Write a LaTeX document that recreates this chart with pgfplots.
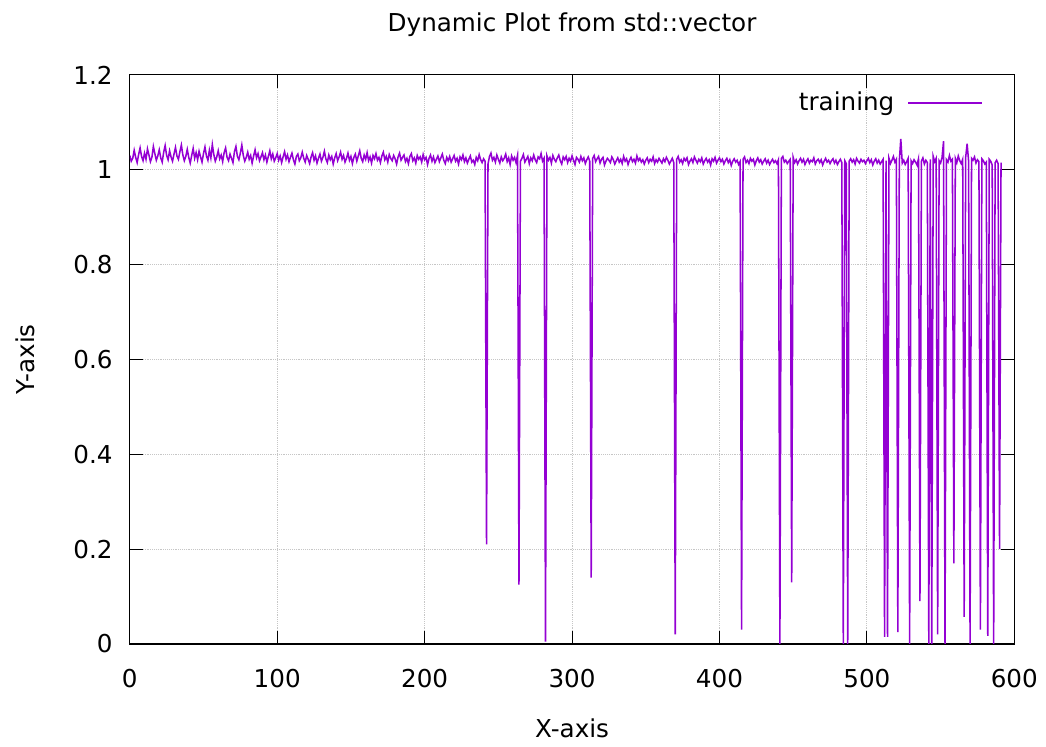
\documentclass[border=0pt]{standalone}
\usepackage{fontspec}
\setmainfont{DejaVu Sans}
\usepackage{pgfplots}
\usepackage{pgfplotstable}
\pgfplotsset{compat=1.18}
\definecolor{gpviolet}{HTML}{9400D3}

\pgfplotstableread[row sep=\\]{
y\\
1.030\\1.018\\1.024\\1.041\\1.026\\1.015\\1.032\\1.046\\1.028\\1.019\\
1.035\\1.022\\1.044\\1.031\\1.017\\1.026\\1.049\\1.034\\1.020\\1.029\\
1.042\\1.025\\1.016\\1.037\\1.051\\1.030\\1.021\\1.040\\1.027\\1.018\\
1.033\\1.047\\1.029\\1.022\\1.038\\1.052\\1.031\\1.019\\1.028\\1.043\\
1.026\\1.014\\1.030\\1.045\\1.024\\1.036\\1.021\\1.039\\1.027\\1.016\\
1.034\\1.048\\1.029\\1.020\\1.041\\1.025\\1.053\\1.032\\1.018\\1.027\\
1.040\\1.023\\1.031\\1.017\\1.036\\1.046\\1.026\\1.019\\1.033\\1.024\\
1.015\\1.038\\1.049\\1.028\\1.021\\1.035\\1.052\\1.030\\1.018\\1.026\\
1.037\\1.022\\1.030\\1.014\\1.029\\1.042\\1.025\\1.034\\1.019\\1.027\\
1.036\\1.021\\1.031\\1.016\\1.028\\1.040\\1.023\\1.033\\1.018\\1.025\\
1.034\\1.020\\1.029\\1.015\\1.027\\1.038\\1.022\\1.031\\1.017\\1.026\\
1.035\\1.021\\1.012\\1.028\\1.033\\1.019\\1.025\\1.037\\1.024\\1.016\\
1.030\\1.022\\1.013\\1.027\\1.036\\1.020\\1.029\\1.014\\1.024\\1.033\\
1.018\\1.026\\1.039\\1.023\\1.015\\1.031\\1.021\\1.028\\1.012\\1.025\\
1.034\\1.019\\1.027\\1.037\\1.022\\1.030\\1.016\\1.024\\1.035\\1.020\\
1.028\\1.013\\1.026\\1.033\\1.018\\1.029\\1.040\\1.024\\1.017\\1.031\\
1.022\\1.036\\1.019\\1.027\\1.014\\1.030\\1.023\\1.034\\1.020\\1.026\\
1.015\\1.029\\1.037\\1.021\\1.028\\1.016\\1.032\\1.024\\1.019\\1.030\\
1.023\\1.012\\1.027\\1.035\\1.020\\1.026\\1.031\\1.017\\1.024\\1.013\\
1.028\\1.034\\1.019\\1.025\\1.014\\1.030\\1.022\\1.027\\1.016\\1.032\\
1.021\\1.026\\1.011\\1.024\\1.031\\1.018\\1.027\\1.015\\1.022\\1.029\\
1.017\\1.025\\1.033\\1.020\\1.013\\1.026\\1.019\\1.028\\1.016\\1.023\\
1.030\\1.018\\1.024\\1.012\\1.027\\1.021\\1.031\\1.017\\1.025\\1.014\\
1.022\\1.029\\1.016\\1.020\\1.011\\1.026\\1.019\\1.032\\1.021\\1.015\\
1.023\\1.018\\0.210\\1.012\\1.028\\1.035\\1.020\\1.026\\1.016\\1.031\\
1.022\\1.014\\1.027\\1.019\\1.024\\1.033\\1.017\\1.025\\1.011\\1.029\\
1.020\\1.026\\1.015\\1.030\\0.125\\1.018\\1.024\\1.032\\1.016\\1.022\\
1.028\\1.013\\1.025\\1.019\\1.031\\1.021\\1.015\\1.027\\1.023\\1.034\\
1.018\\1.024\\0.005\\1.029\\1.020\\1.026\\1.014\\1.030\\1.022\\1.017\\
1.025\\1.031\\1.019\\1.012\\1.027\\1.021\\1.028\\1.015\\1.024\\1.018\\
1.029\\1.020\\1.011\\1.026\\1.022\\1.016\\1.028\\1.019\\1.025\\1.013\\
1.021\\1.027\\1.018\\0.140\\1.024\\1.030\\1.017\\1.023\\1.028\\1.014\\
1.022\\1.026\\1.010\\1.018\\1.024\\1.020\\1.015\\1.027\\1.021\\1.012\\
1.019\\1.025\\1.016\\1.022\\1.013\\1.028\\1.018\\1.023\\1.011\\1.020\\
1.026\\1.017\\1.022\\1.014\\1.029\\1.019\\1.024\\1.016\\1.021\\1.012\\
1.020\\1.025\\1.015\\1.022\\1.018\\1.027\\1.013\\1.021\\1.016\\1.024\\
1.019\\1.014\\1.023\\1.017\\1.026\\1.020\\1.012\\1.018\\1.024\\1.015\\
0.020\\1.022\\1.028\\1.016\\1.021\\1.013\\1.024\\1.019\\1.025\\1.011\\
1.018\\1.023\\1.015\\1.027\\1.020\\1.014\\1.022\\1.017\\1.025\\1.012\\
1.019\\1.024\\1.016\\1.021\\1.010\\1.023\\1.018\\1.026\\1.014\\1.020\\
1.025\\1.017\\1.022\\1.012\\1.019\\1.024\\1.015\\1.021\\1.009\\1.018\\
1.023\\1.016\\1.020\\1.011\\1.017\\0.030\\1.022\\1.027\\1.015\\1.020\\
1.013\\1.024\\1.018\\1.022\\1.010\\1.019\\1.025\\1.016\\1.021\\1.012\\
1.018\\1.023\\1.014\\1.020\\1.011\\1.017\\1.022\\1.015\\1.019\\1.013\\
1.021\\0.000\\1.024\\1.028\\1.016\\1.020\\1.013\\1.018\\1.022\\0.130\\
1.026\\1.015\\1.021\\1.012\\1.019\\1.024\\1.016\\1.022\\1.011\\1.018\\
1.023\\1.014\\1.020\\1.017\\1.025\\1.012\\1.019\\1.022\\1.015\\1.021\\
1.010\\1.018\\1.024\\1.016\\1.020\\1.013\\1.019\\1.023\\1.014\\1.020\\
1.011\\1.017\\1.022\\1.015\\0.000\\1.019\\1.013\\0.000\\1.018\\1.023\\
1.016\\1.021\\1.012\\1.024\\1.018\\1.014\\1.022\\1.017\\1.020\\1.013\\
1.019\\1.024\\1.015\\1.021\\1.010\\1.018\\1.023\\1.014\\1.020\\1.012\\
1.017\\1.022\\0.015\\1.019\\0.015\\1.024\\1.013\\1.020\\1.028\\1.016\\
1.022\\0.025\\1.018\\1.065\\1.014\\1.020\\1.011\\1.017\\1.024\\0.000\\
1.019\\1.013\\1.021\\1.016\\1.010\\1.023\\0.090\\1.018\\1.025\\1.012\\
1.020\\1.015\\0.000\\1.022\\0.000\\1.028\\1.017\\1.024\\0.020\\1.019\\
1.014\\1.026\\1.060\\0.000\\1.021\\1.016\\1.030\\1.018\\1.022\\0.170\\
1.024\\1.015\\1.029\\1.019\\1.013\\1.022\\0.057\\1.026\\1.055\\1.018\\
0.000\\1.024\\1.020\\1.027\\1.014\\1.021\\1.017\\0.030\\1.023\\1.019\\
1.012\\1.016\\0.017\\1.022\\1.018\\1.010\\0.000\\1.015\\1.020\\1.013\\
0.200\\1.015\\
}\datatable

\begin{document}
\fontsize{18.5}{22}\selectfont
\begin{tikzpicture}
\begin{axis}[
  name=ax,
  scale only axis,
  width=664.5pt, height=427.5pt,
  xmin=0, xmax=600, ymin=0, ymax=1.2,
  xtick={0,100,200,300,400,500,600},
  ytick={0,0.2,0.4,0.6,0.8,1,1.2},
  /pgf/number format/assume math mode=true,
  grid=major,
  major grid style={densely dotted, gray!45, line width=0.6pt},
  tick align=inside,
  major tick length=10pt,
  tick style={black, line width=0.8pt},
  axis line style={black, line width=0.9pt},
  xticklabel style={yshift=-13pt},
  yticklabel style={xshift=-6.5pt},
  title={Dynamic Plot from std::vector},
  xlabel={X-axis},
  ylabel={Y-axis},
  every axis title/.style={at={(rel axis cs:0.5,1)}, yshift=37.5pt, anchor=center},
  every axis x label/.style={at={(rel axis cs:0.5,0)}, yshift=-63.75pt, anchor=center},
  every axis y label/.style={at={(rel axis cs:0,0.5)}, xshift=-78.75pt, rotate=90, anchor=center},
  legend plot pos=right,
  legend cell align=right,
  legend style={draw=none, fill=none, at={(axis cs:579,1.141)}, anchor=east,
    inner sep=0pt, nodes={inner sep=0pt},
    /tikz/every odd column/.append style={column sep=10pt}},
  legend image code/.code={\draw[#1] (0pt,0pt) -- (55.5pt,0pt);},
]
\addplot[gpviolet, line width=1.15pt] table[x expr=\coordindex, y=y] {\datatable};
\addlegendentry{training}
\end{axis}
\path ([xshift=-97.5pt,yshift=-74.25pt]ax.south west) rectangle ([xshift=22.5pt,yshift=56.25pt]ax.north east);
\end{tikzpicture}
\end{document}
